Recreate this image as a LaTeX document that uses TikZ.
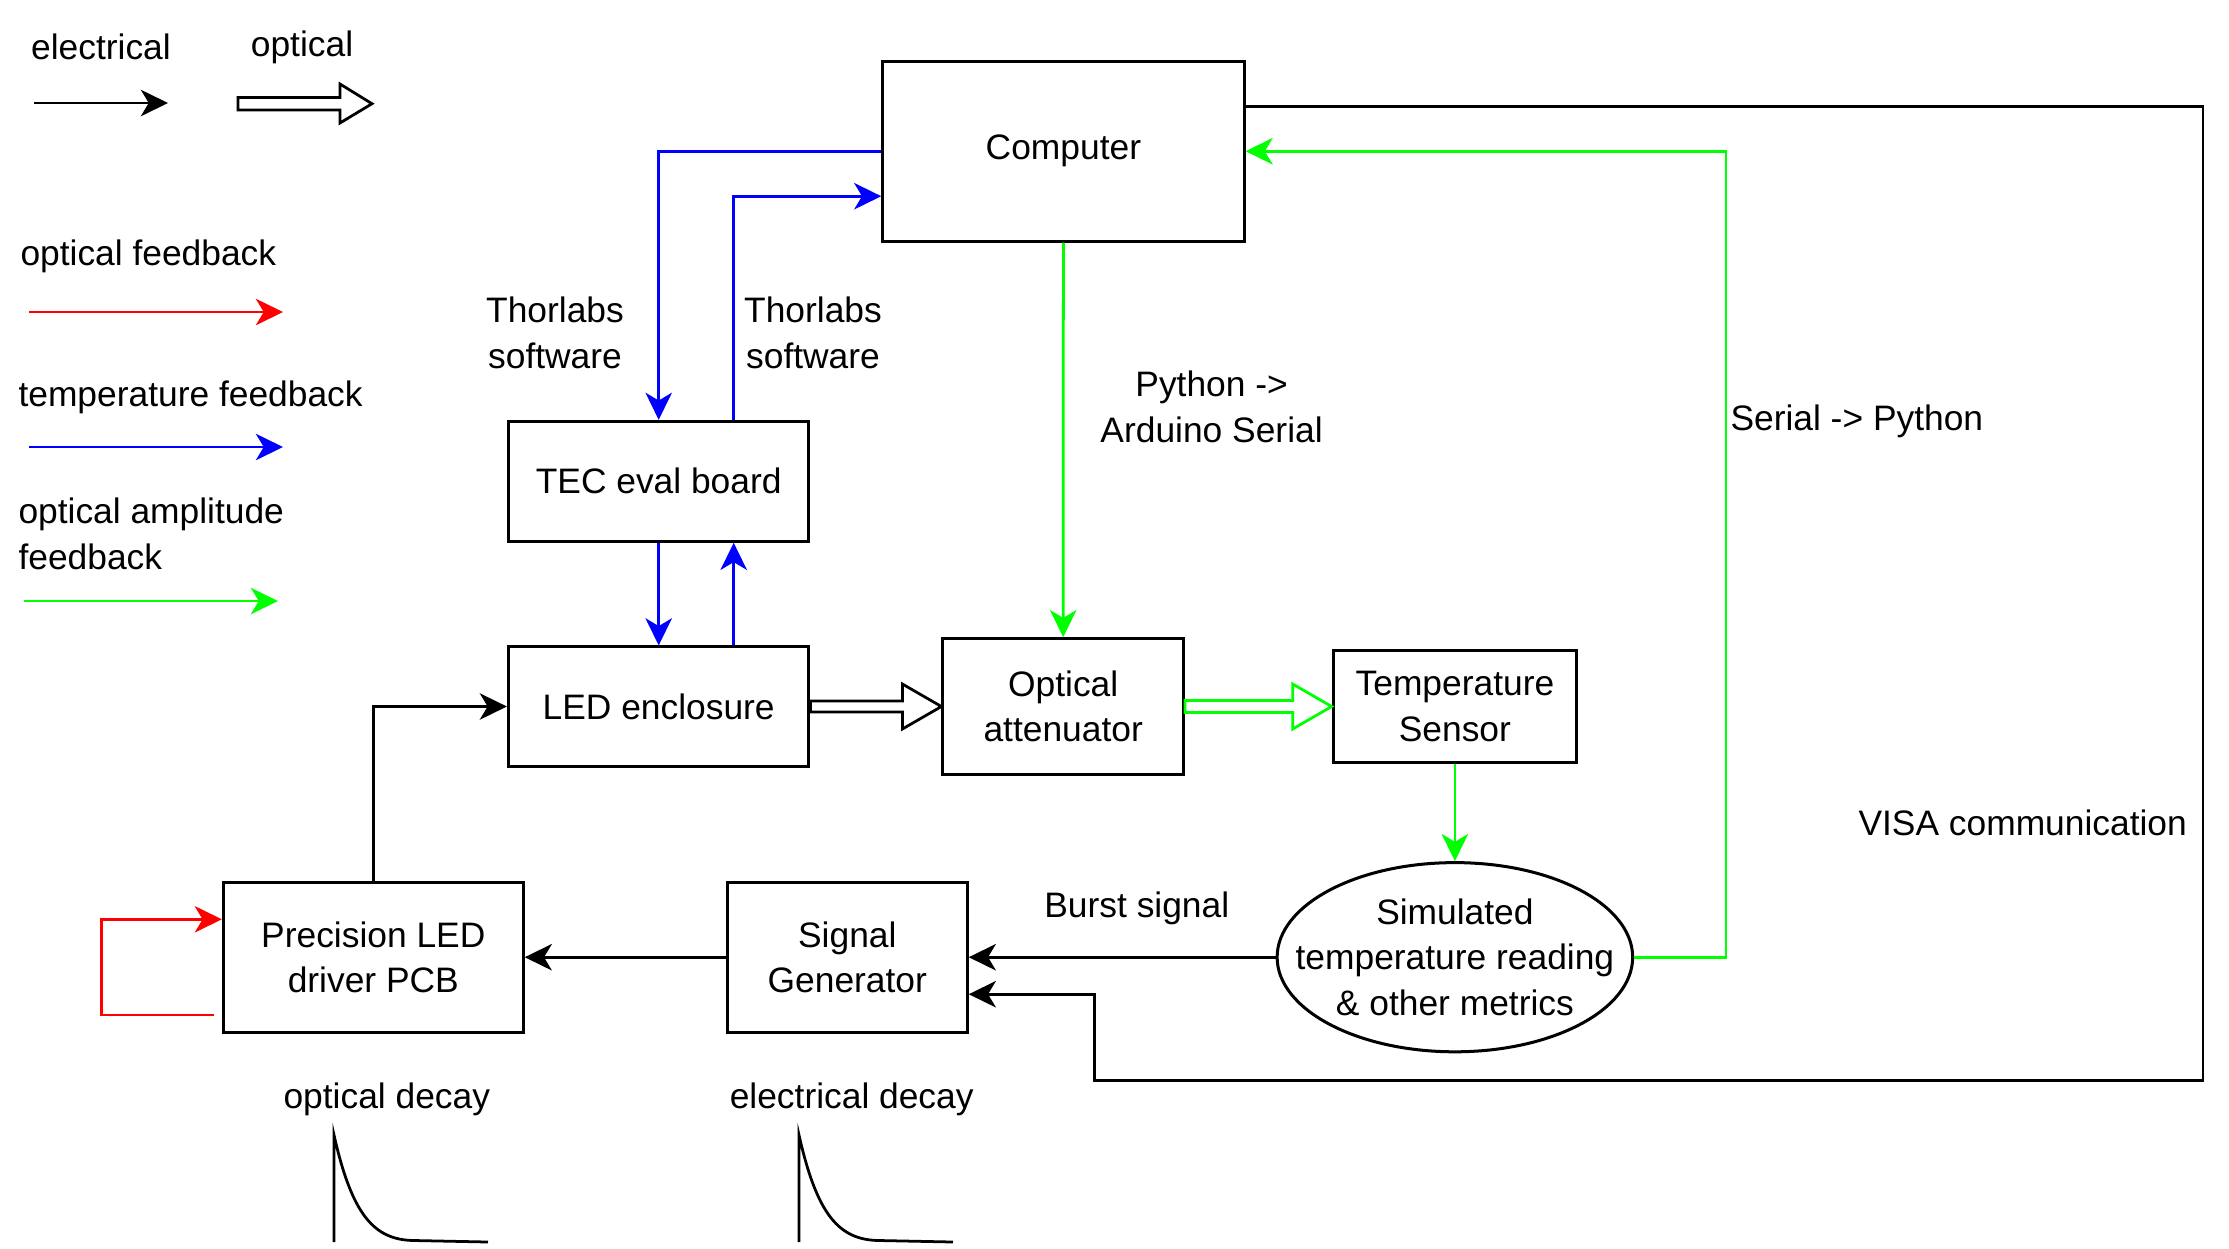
\documentclass[tikz,border=0pt]{standalone}
\usepackage{fontspec}
\setmainfont{Liberation Sans}
\usepackage{tikz}
\usetikzlibrary{shapes,arrows.meta,calc}
\usetikzlibrary{positioning}
\tikzstyle{box_style}=[draw, line width=1.2pt, anchor=center, text centered, align=center, inner sep=0pt]
\tikzstyle{label_style}=[inner sep=0pt, align=center]
\tikzstyle{myarrow}=[-{Stealth[length=3.8mm,width=3.7mm,inset=1.1mm]}, line width=1.1pt]
\tikzstyle{elec}=[myarrow, color=black]
\tikzstyle{red_fb}=[myarrow, color=red, line width=1.1pt]
\tikzstyle{temp_fb}=[myarrow, color=blue, line width=1.1pt]
\tikzstyle{ampl_fb}=[myarrow, color=green, line width=1.1pt]
\tikzstyle{hollow}=[draw, line width=1.1pt, fill=white]

\begin{document}
\begin{tikzpicture}[x=0.014cm, y=-0.014cm, font=\fontsize{14.1}{18.2}\selectfont]
	\useasboundingbox (0,0) rectangle (2229,1248);

	% legend
	\node[label_style] (lg_elec) at (101,47) {electrical};
	\node[label_style] (lg_opt) at (302,47) {optical};
	\coordinate (le_a) at (34,103);
	\coordinate (le_b) at (168,103);
	\draw[elec] (le_a) -- (le_b);
	\draw[hollow] (238,97.5) -- (340,97.5) -- (340,84) -- (372,103.7) -- (340,123) -- (340,110) -- (238,110) -- cycle;

	\node[label_style, anchor=west] (lg_red) at (20,256) {optical feedback};
	\coordinate (lr_a) at (29,312);
	\coordinate (lr_b) at (283,312);
	\draw[red_fb] (lr_a) -- (lr_b);

	\node[label_style, anchor=west] (lg_blue) at (18,397) {temperature feedback};
	\coordinate (lb_a) at (29,447);
	\coordinate (lb_b) at (283,447);
	\draw[temp_fb] (lb_a) -- (lb_b);

	\node[label_style, anchor=west, align=left] (lg_green) at (18,534) {optical amplitude\\feedback};
	\coordinate (lg_a) at (24,601);
	\coordinate (lg_b) at (278,601);
	\draw[ampl_fb] (lg_a) -- (lg_b);

	% blocks
	\node[box_style, minimum width=5.06cm, minimum height=2.52cm] (Computer) at (1063.4,151.2) {Computer};
	\node[box_style, minimum width=4.21cm, minimum height=1.68cm] (TEC) at (658.7,481.3) {TEC eval board};
	\node[box_style, minimum width=4.21cm, minimum height=1.67cm] (LED) at (658.7,706.5) {LED enclosure};
	\node[box_style, minimum width=3.37cm, minimum height=1.9cm] (Att) at (1063.2,706.5) {Optical\\attenuator};
	\node[box_style, minimum width=3.41cm, minimum height=1.58cm] (Temp) at (1454.9,706.5) {Temperature\\Sensor};
	\node[draw, line width=1.2pt, ellipse, minimum width=4.98cm, minimum height=2.65cm] (Sim) at (1454.9,957.2) {};
	\node[label_style] (SimTxt) at (Sim.center) {Simulated\\temperature reading\\\& other metrics};
	\node[box_style, minimum width=3.36cm, minimum height=2.1cm] (SigGen) at (847.3,957.2) {Signal\\Generator};
	\node[box_style, minimum width=4.2cm, minimum height=2.1cm] (PCB) at (373.3,957.2) {Precision LED\\driver PCB};

	% temperature loop
	\draw[temp_fb] (Computer.west) -| (TEC.north);
	\draw[temp_fb] ($(TEC.north)+(75,0)$) |- ($(Computer.west)+(0,45)$);
	\draw[temp_fb] (TEC.south) -- (LED.north);
	\draw[temp_fb] ($(LED.north)+(75,0)$) -- ($(TEC.south)+(75,0)$);
	\node[label_style] (thor_l) at (555,333) {Thorlabs\\software};
	\node[label_style] (thor_r) at (813,333) {Thorlabs\\software};

	% optical path
	\draw[hollow] ($(LED.east)+(0,-5.5)$) -- ($(Att.west)+(-39,-5.5)$) -- ($(Att.west)+(-39,-22.5)$) -- (Att.west)
		-- ($(Att.west)+(-39,22.5)$) -- ($(Att.west)+(-39,5.5)$) -- ($(LED.east)+(0,5.5)$) -- cycle;
	\draw[hollow, draw=green] ($(Att.east)+(0,-6)$) -- ($(Temp.west)+(-39,-6)$) -- ($(Temp.west)+(-39,-22.5)$) -- (Temp.west)
		-- ($(Temp.west)+(-39,22.5)$) -- ($(Temp.west)+(-39,6)$) -- ($(Att.east)+(0,6)$) -- cycle;

	% amplitude loop
	\draw[ampl_fb] (Computer.south) -- (Att.north);
	\node[label_style] (py_lbl) at (1211.6,407) {Python ->\\Arduino Serial};
	\draw[ampl_fb] (Temp.south) -- (Sim.north);
	\draw[ampl_fb] (Sim.east) -- ++(91.7,0) |- (Computer.east);
	\node[label_style, anchor=west] (ser_lbl) at (1730,421.5) {Serial -> Python};

	% electrical path
	\coordinate (visa_c) at (2203,1080.7);
	\draw[elec] ($(Computer.east)+(0,-44.5)$) -| (visa_c) -| ($(SigGen.east)+(126,37)$) -- ($(SigGen.east)+(0,37)$);
	\node[label_style, anchor=west] (visa_lbl) at (1858,823) {VISA communication};
	\draw[elec] (Sim.west) -- (SigGen.east);
	\node[label_style] (burst_lbl) at (1136.8,908) {Burst signal};
	\draw[elec] (SigGen.west) -- (PCB.east);
	\draw[elec] (PCB.north) |- (LED.west);
	\draw[red_fb] ($(PCB.west)+(-8,57.8)$) -- ++(-112,0) |- ($(PCB.west)+(0,-37.9)$);

	% decay shapes
	\node[label_style] (opt_decay) at (386.8,1099) {optical decay};
	\draw[line width=1.1pt] (334,1242) -- (334,1135) .. controls (352,1215) and (374,1240) .. (414,1240.5) -- (488,1242);
	\node[label_style] (el_decay) at (851.7,1099) {electrical decay};
	\draw[line width=1.1pt] (799,1242) -- (799,1135) .. controls (817,1215) and (839,1240) .. (879,1240.5) -- (953,1242);
\end{tikzpicture}
\end{document}
